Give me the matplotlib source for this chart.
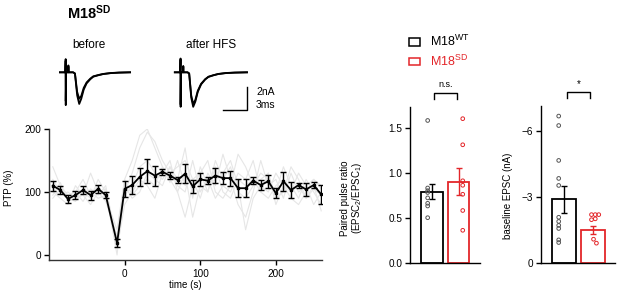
import matplotlib
matplotlib.use("Agg")
import matplotlib.pyplot as plt
from matplotlib.patches import Patch
import numpy as np

plt.rcParams['font.family'] = ['Liberation Sans', 'DejaVu Sans']
plt.rcParams['mathtext.fontset'] = 'custom'
plt.rcParams['mathtext.rm'] = 'Liberation Sans'
plt.rcParams['mathtext.it'] = 'Liberation Sans:italic'
plt.rcParams['mathtext.bf'] = 'Liberation Sans:bold'

RED = '#e3262a'

# ---------------- data ----------------
# PTP time course
pre_times = [-95, -85, -75, -65, -55, -45, -35, -25]
pre_mean = [110, 103, 89, 95, 103, 95, 105, 95]
pre_err = [8, 7, 6, 6, 7, 7, 6, 5]
dip_time = [-10]
dip_mean = [19]
dip_err = [6]
post_times = list(range(0, 261, 10))
post_mean = [105, 111, 124, 133, 126, 132, 126, 119, 129, 109, 120, 118, 126, 122,
             122, 106, 106, 118, 111, 117, 98, 117, 103, 111, 104, 111, 96]
post_err = [13, 14, 14, 19, 16, 5, 5, 5, 15, 10, 10, 5, 12, 10,
            12, 14, 14, 5, 8, 10, 8, 15, 13, 4, 10, 5, 15]

# individual cells (light grey)
cell_1 = [140, 110, 95, 100, 120, 95, 110, 90, 40, 120, 150, 190, 200, 170, 140, 120, 100, 60,
          110, 130, 100, 150, 120, 140, 100, 90, 110, 130, 120, 100, 140, 110, 90, 120, 100, 80]
cell_2 = [100, 90, 80, 110, 95, 130, 100, 105, 20, 100, 130, 170, 195, 180, 150, 130, 140, 150,
          120, 90, 130, 110, 160, 120, 80, 60, 100, 150, 110, 120, 90, 130, 100, 110, 80, 100]
cell_3 = [95, 115, 85, 90, 105, 100, 90, 95, 10, 80, 100, 120, 110, 90, 130, 150, 100, 130,
          60, 110, 100, 140, 100, 90, 120, 110, 120, 100, 130, 90, 100, 140, 120, 90, 110, 70]
cell_4 = [120, 100, 90, 85, 100, 90, 120, 100, 0, 110, 90, 100, 130, 120, 110, 140, 120, 170,
          90, 140, 110, 120, 130, 150, 110, 40, 90, 110, 100, 130, 110, 90, 80, 100, 120, 110]
cell_5 = [105, 95, 100, 90, 95, 80, 100, 85, 30, 120, 95, 110, 120, 110, 140, 115, 150, 110,
          120, 130, 150, 100, 90, 110, 160, 140, 110, 120, 130, 80, 110, 100, 110, 90, 105, 95]
cell_6 = [90, 105, 95, 100, 85, 105, 95, 110, 15, 95, 110, 140, 150, 130, 120, 140, 110, 100,
          150, 100, 120, 90, 110, 100, 130, 120, 150, 100, 90, 110, 120, 100, 130, 110, 120, 105]
cells = [cell_1, cell_2, cell_3, cell_4, cell_5, cell_6]

# Paired pulse ratio
groups = ['M18$^{\\mathrm{WT}}$', 'M18$^{\\mathrm{SD}}$']
ppr_mean = [0.79, 0.90]
ppr_err = [0.08, 0.15]
ppr_wt_points = [1.58, 0.83, 0.80, 0.78, 0.72, 0.66, 0.63, 0.50]
ppr_sd_points = [1.60, 1.31, 0.91, 0.86, 0.76, 0.58, 0.36]

# baseline EPSC (nA)
epsc_mean = [-2.88, -1.50]
epsc_err = [0.62, 0.18]
epsc_wt_points = [-6.68, -6.25, -4.66, -3.84, -3.52, -2.07, -1.88, -1.70, -1.56, -1.04, -0.92]
epsc_sd_points = [-2.19, -2.19, -2.19, -2.00, -1.96, -1.07, -0.89]

# example EPSC traces (ms, nA)
before_t = [-0.7, -0.05, 0, 0.01, 0.05, 0.3, 0.33, 0.36, 0.9, 1.13, 1.4, 1.65, 1.9, 2.2, 2.55,
            3.0, 3.36, 4.0, 4.58, 5.5, 6.5, 7.85]
before_i1 = [0, 0, 1.15, -2.85, 0, 0, 0.6, 0, 0, -0.1, -2.0, -2.75, -2.3, -1.5, -0.96,
             -0.6, -0.38, -0.25, -0.15, -0.07, -0.03, 0]
before_i2 = [0, 0, 1.0, -2.5, 0, 0, 0.5, 0, 0, -0.1, -1.7, -2.3, -2.05, -1.35, -0.88,
             -0.55, -0.35, -0.23, -0.14, -0.06, -0.02, 0]
after_t = [-0.7, -0.05, 0, 0.01, 0.05, 0.3, 0.33, 0.36, 0.85, 1.05, 1.3, 1.54, 1.8, 2.1, 2.5,
           3.0, 3.4, 4.0, 4.6, 5.5, 6.6, 8.1]
after_i1 = [0, 0, 1.2, -3.0, 0, 0, 0.55, 0, 0, -0.1, -2.2, -3.0, -2.55, -1.7, -1.05,
            -0.62, -0.4, -0.26, -0.15, -0.07, -0.03, 0]
after_i2 = [0, 0, 1.1, -2.8, 0, 0, 0.5, 0, 0, -0.1, -2.0, -2.75, -2.4, -1.6, -1.0,
            -0.6, -0.38, -0.25, -0.14, -0.06, -0.02, 0]
after_offset_ms = 14.0

# ---------------- figure ----------------
fig = plt.figure(figsize=(6.17, 2.94), dpi=100)
W, H = 617.0, 294.0

def ax_px(l, t, r, b):
    return fig.add_axes([l / W, 1 - b / H, (r - l) / W, (b - t) / H])

TICK = 7.2
bar_colors = ['black', RED]

# Title
fig.text(67 / W, 1 - 19 / H, 'M18$^{\\mathbf{SD}}$', fontsize=10.5, fontweight='bold',
         ha='left', va='baseline')

# traces
axt = ax_px(50, 50, 270, 115)
axt.set_xlim(-1.91, 24.9)
axt.set_ylim(-3.71, 1.94)
axt.axis('off')
for tr in (before_i1, before_i2):
    axt.plot(before_t, tr, color='black', lw=1.3, solid_joinstyle='round')
for tr in (after_i1, after_i2):
    axt.plot(np.array(after_t) + after_offset_ms, tr, color='black', lw=1.3,
             solid_joinstyle='round')
axt.plot([19.15, 22.15, 22.15], [-3.28, -3.28, -1.28], color='black', lw=1.0, clip_on=False)
axt.text(23.2, -1.75, '2nA', fontsize=7.5, ha='left', va='center')
axt.text(23.2, -2.85, '3ms', fontsize=7.5, ha='left', va='center')
fig.text(88.5 / W, 1 - 45 / H, 'before', fontsize=8.5, ha='center', va='center')
fig.text(211 / W, 1 - 45 / H, 'after HFS', fontsize=8.5, ha='center', va='center')

# PTP time course
ax = ax_px(49, 129, 322, 260)
all_times = pre_times + dip_time + post_times
for c in cells:
    ax.plot(all_times, c, color='#e6e6e6', lw=0.8, zorder=1)
series_m = pre_mean + dip_mean + post_mean
series_e = pre_err + dip_err + post_err
ax.errorbar(all_times, series_m, yerr=series_e, color='black', lw=1.3, elinewidth=1.0,
            capsize=2.2, capthick=1.0, marker='s', ms=2.0, zorder=3)
ax.set_xlim(-100, 261)
ax.set_ylim(-8, 200)
ax.set_yticks([0, 100, 200])
ax.set_xticks([0, 100, 200])
ax.spines[['top', 'right']].set_visible(False)
for s in ax.spines.values():
    s.set_linewidth(1.0)
    s.set_color('#333333')
ax.tick_params(labelsize=TICK, length=3.5, width=1.0, pad=2)
ax.tick_params(axis='x', pad=3)
ax.set_ylabel('PTP (%)', fontsize=7)
ax.yaxis.set_label_coords(-0.13, 0.55)
ax.set_xlabel('time (s)', fontsize=7, labelpad=1)

# PPR
ax2 = ax_px(410, 106.7, 480, 262.7)
xs = [0, 1]
ax2.bar(xs, ppr_mean, width=0.78, facecolor='white', edgecolor=bar_colors, lw=1.3, zorder=2)
for x, m, e, c in zip(xs, ppr_mean, ppr_err, bar_colors):
    ax2.errorbar([x], [m], yerr=[e], fmt='none', ecolor=c, elinewidth=1.0,
                 capsize=2.5, capthick=1.0, zorder=4)
ax2.scatter([-0.16] * len(ppr_wt_points), ppr_wt_points, s=7, facecolor='none',
            edgecolor='#555555', lw=0.7, zorder=3)
ax2.scatter([1.14] * len(ppr_sd_points), ppr_sd_points, s=7, facecolor='none',
            edgecolor=RED, lw=0.7, zorder=3)
ax2.set_xlim(-0.815, 1.78)
ax2.set_ylim(0, 1.733)
ax2.set_yticks([0, 0.5, 1.0, 1.5])
ax2.set_yticklabels(['0.0', '0.5', '1.0', '1.5'])
ax2.set_xticks([])
ax2.spines[['top', 'right']].set_visible(False)
ax2.tick_params(labelsize=TICK, length=3.5, width=1.0, pad=2)
ax2.set_ylabel('Paired pulse ratio\n(EPSC$_2$/EPSC$_1$)', fontsize=7, linespacing=1.0)
ax2.yaxis.set_label_coords(-0.66, 0.415)
ax2.plot([0.07, 0.07, 0.93, 0.93], [1.82, 1.89, 1.89, 1.82], color='black', lw=1.0,
         clip_on=False)
ax2.text(0.5, 1.93, 'n.s.', fontsize=6.5, ha='center', va='bottom')

# baseline EPSC
ax3 = ax_px(541, 106, 615, 262.7)
ax3.bar(xs, epsc_mean, width=0.83, facecolor='white', edgecolor=bar_colors, lw=1.3, zorder=2)
for x, m, e, c in zip(xs, epsc_mean, epsc_err, bar_colors):
    ax3.errorbar([x], [m], yerr=[e], fmt='none', ecolor=c, elinewidth=1.0,
                 capsize=2.5, capthick=1.0, zorder=4)
ax3.scatter([-0.18] * len(epsc_wt_points), epsc_wt_points, s=7, facecolor='none',
            edgecolor='#555555', lw=0.7, zorder=3)
sd_x = [0.95, 1.08, 1.2, 1.08, 0.95, 1.02, 1.12]
ax3.scatter(sd_x, epsc_sd_points, s=7, facecolor='none', edgecolor=RED, lw=0.7, zorder=3)
ax3.set_xlim(-0.79, 1.76)
ax3.set_ylim(0, -7.14)
ax3.set_yticks([0, -3, -6])
ax3.set_xticks([])
ax3.spines[['top', 'right']].set_visible(False)
ax3.tick_params(labelsize=TICK, length=3.5, width=1.0, pad=2)
ax3.set_ylabel('baseline EPSC (nA)', fontsize=7)
ax3.yaxis.set_label_coords(-0.38, 0.43)
ax3.plot([0.1, 0.1, 0.9, 0.9], [-7.5, -7.78, -7.78, -7.5], color='black', lw=1.0,
         clip_on=False)
ax3.text(0.5, -7.9, '*', fontsize=7, ha='center', va='bottom')

for a in (ax2, ax3):
    for s in a.spines.values():
        s.set_linewidth(1.0)

# legend
handles = [Patch(facecolor='white', edgecolor='black', lw=1.1),
           Patch(facecolor='white', edgecolor=RED, lw=1.1)]
leg = fig.legend(handles, groups, loc='upper left', bbox_to_anchor=(409 / W, 1 - 34 / H),
                 frameon=False, fontsize=9, handlelength=0.9, handleheight=0.55,
                 handletextpad=0.8, labelspacing=0.35, borderpad=0, borderaxespad=0)
leg.get_texts()[1].set_color(RED)

fig.savefig('out.png', dpi=100)
